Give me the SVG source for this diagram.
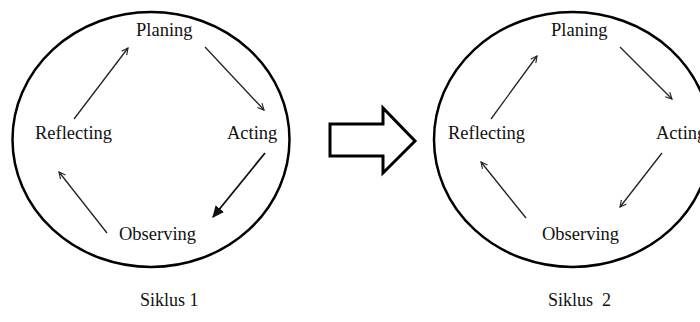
<svg xmlns="http://www.w3.org/2000/svg" width="700" height="322" viewBox="0 0 700 322">
<style>
.cyc{fill:none;stroke:#000;stroke-width:2.5}
.lbl{font-family:"Liberation Serif","Times New Roman",serif;font-size:18.5px;fill:#111}
.cap{font-family:"Liberation Serif","Times New Roman",serif;font-size:18px;fill:#111}
.ln{stroke:#222;stroke-width:1.3;fill:none}
.ln2{stroke:#111;stroke-width:1.8;fill:none}
</style>
<defs>
<marker id="open" viewBox="0 0 10 10" refX="9" refY="5" markerWidth="8" markerHeight="8" markerUnits="userSpaceOnUse" orient="auto">
<path d="M1,1 L9,5 L1,9" fill="none" stroke="#222" stroke-width="1.4"/>
</marker>
<marker id="solid" viewBox="0 0 10 10" refX="9" refY="5" markerWidth="12" markerHeight="12" markerUnits="userSpaceOnUse" orient="auto">
<path d="M0,0.5 L10,5 L0,9.5 Z" fill="#111"/>
</marker>
</defs>
<rect width="700" height="322" fill="#fff"/>
<g id="cycle1">
<ellipse class="cyc" cx="151" cy="139.5" rx="138.5" ry="127.5"/>
</g>
<g id="cycle2">
<ellipse class="cyc" cx="572.5" cy="139.5" rx="138.5" ry="127.5"/>
</g>
<g id="c1-planing"><text class="lbl" x="136" y="36">Planing</text></g>
<g id="c1-reflecting"><text class="lbl" x="35" y="139">Reflecting</text></g>
<g id="c1-acting"><text class="lbl" x="227" y="139">Acting</text></g>
<g id="c1-observing"><text class="lbl" x="119" y="240">Observing</text></g>
<g id="c2-planing"><text class="lbl" x="551" y="36">Planing</text></g>
<g id="c2-reflecting"><text class="lbl" x="448" y="139">Reflecting</text></g>
<g id="c2-acting"><text class="lbl" x="656" y="139">Acting</text></g>
<g id="c2-observing"><text class="lbl" x="542" y="240">Observing</text></g>
<g id="label1"><text class="cap" x="140" y="306">Siklus 1</text></g>
<g id="label2"><text class="cap" x="548" y="306" xml:space="preserve">Siklus  2</text></g>
<g id="transition">
<path d="M330,124 L383,124 L383,108 L415,141 L383,173 L383,156 L330,156 Z" fill="#fff" stroke="#000" stroke-width="3" stroke-linejoin="miter"/>
</g>
<g id="connectors">
<line class="ln" x1="74" y1="119" x2="128" y2="48" marker-end="url(#open)"/>
<line class="ln" x1="205" y1="47" x2="264" y2="110" marker-end="url(#open)"/>
<line class="ln2" x1="265" y1="153" x2="213" y2="217" marker-end="url(#solid)"/>
<line class="ln" x1="107" y1="233" x2="59" y2="172" marker-end="url(#open)"/>
<line class="ln" x1="491" y1="119" x2="537" y2="56" marker-end="url(#open)"/>
<line class="ln" x1="620" y1="47" x2="672" y2="99" marker-end="url(#open)"/>
<line class="ln" x1="662" y1="153" x2="620" y2="207" marker-end="url(#open)"/>
<line class="ln" x1="526" y1="218" x2="481" y2="162" marker-end="url(#open)"/>
</g>
</svg>
